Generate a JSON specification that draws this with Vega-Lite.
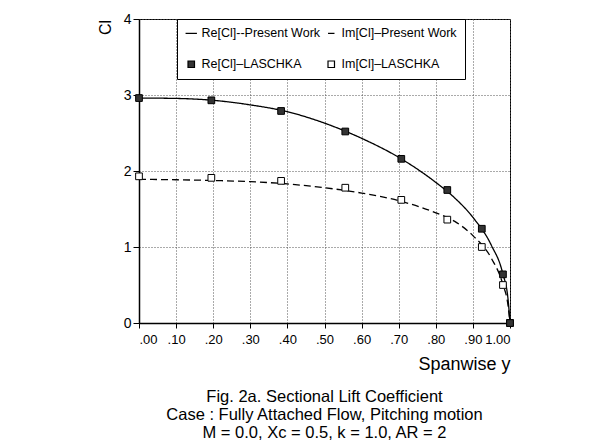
{
  "$schema": "https://vega.github.io/schema/vega-lite/v6.json",
  "width": 371,
  "height": 304,
  "autosize": {"type": "none"},
  "padding": {"left": 139, "top": 19, "right": 98, "bottom": 120},
  "background": "white",
  "datasets": {
    "curves": [
      {"series": "Re[Cl]--Present Work", "span": 0.0, "cl": 2.96},
      {"series": "Re[Cl]--Present Work", "span": 0.1, "cl": 2.955},
      {"series": "Re[Cl]--Present Work", "span": 0.2, "cl": 2.93},
      {"series": "Re[Cl]--Present Work", "span": 0.3, "cl": 2.87},
      {"series": "Re[Cl]--Present Work", "span": 0.4, "cl": 2.78},
      {"series": "Re[Cl]--Present Work", "span": 0.5, "cl": 2.63},
      {"series": "Re[Cl]--Present Work", "span": 0.6, "cl": 2.43},
      {"series": "Re[Cl]--Present Work", "span": 0.7, "cl": 2.18},
      {"series": "Re[Cl]--Present Work", "span": 0.8, "cl": 1.85},
      {"series": "Re[Cl]--Present Work", "span": 0.85, "cl": 1.65},
      {"series": "Re[Cl]--Present Work", "span": 0.9, "cl": 1.39},
      {"series": "Re[Cl]--Present Work", "span": 0.95, "cl": 1.02},
      {"series": "Re[Cl]--Present Work", "span": 0.98, "cl": 0.66},
      {"series": "Re[Cl]--Present Work", "span": 0.995, "cl": 0.3},
      {"series": "Re[Cl]--Present Work", "span": 1.0, "cl": 0.0},
      {"series": "Im[Cl]–Present Work", "span": 0.0, "cl": 1.89},
      {"series": "Im[Cl]–Present Work", "span": 0.1, "cl": 1.885},
      {"series": "Im[Cl]–Present Work", "span": 0.2, "cl": 1.875},
      {"series": "Im[Cl]–Present Work", "span": 0.3, "cl": 1.86},
      {"series": "Im[Cl]–Present Work", "span": 0.4, "cl": 1.83},
      {"series": "Im[Cl]–Present Work", "span": 0.5, "cl": 1.78},
      {"series": "Im[Cl]–Present Work", "span": 0.6, "cl": 1.71},
      {"series": "Im[Cl]–Present Work", "span": 0.7, "cl": 1.61},
      {"series": "Im[Cl]–Present Work", "span": 0.8, "cl": 1.45},
      {"series": "Im[Cl]–Present Work", "span": 0.85, "cl": 1.34},
      {"series": "Im[Cl]–Present Work", "span": 0.9, "cl": 1.15},
      {"series": "Im[Cl]–Present Work", "span": 0.95, "cl": 0.85},
      {"series": "Im[Cl]–Present Work", "span": 0.98, "cl": 0.52},
      {"series": "Im[Cl]–Present Work", "span": 0.995, "cl": 0.22},
      {"series": "Im[Cl]–Present Work", "span": 1.0, "cl": 0.0}
    ],
    "points": [
      {"series": "Im[Cl]–LASCHKA", "span": 0.0, "cl": 1.93},
      {"series": "Im[Cl]–LASCHKA", "span": 0.195, "cl": 1.91},
      {"series": "Im[Cl]–LASCHKA", "span": 0.383, "cl": 1.87},
      {"series": "Im[Cl]–LASCHKA", "span": 0.556, "cl": 1.78},
      {"series": "Im[Cl]–LASCHKA", "span": 0.707, "cl": 1.62},
      {"series": "Im[Cl]–LASCHKA", "span": 0.831, "cl": 1.36},
      {"series": "Im[Cl]–LASCHKA", "span": 0.924, "cl": 1.0},
      {"series": "Im[Cl]–LASCHKA", "span": 0.981, "cl": 0.5},
      {"series": "Im[Cl]–LASCHKA", "span": 1.0, "cl": 0.0},
      {"series": "Re[Cl]–LASCHKA", "span": 0.0, "cl": 2.96},
      {"series": "Re[Cl]–LASCHKA", "span": 0.195, "cl": 2.93},
      {"series": "Re[Cl]–LASCHKA", "span": 0.383, "cl": 2.79},
      {"series": "Re[Cl]–LASCHKA", "span": 0.556, "cl": 2.52},
      {"series": "Re[Cl]–LASCHKA", "span": 0.707, "cl": 2.16},
      {"series": "Re[Cl]–LASCHKA", "span": 0.831, "cl": 1.75},
      {"series": "Re[Cl]–LASCHKA", "span": 0.924, "cl": 1.24},
      {"series": "Re[Cl]–LASCHKA", "span": 0.981, "cl": 0.64},
      {"series": "Re[Cl]–LASCHKA", "span": 1.0, "cl": 0.0}
    ]
  },
  "title": {
    "text": ["Fig. 2a. Sectional Lift Coefficient", "Case : Fully Attached Flow, Pitching motion", "M = 0.0, Xc = 0.5, k = 1.0, AR = 2"],
    "orient": "bottom",
    "anchor": "middle",
    "frame": "group",
    "font": "Liberation Sans, Arial, sans-serif",
    "fontSize": 16.5,
    "fontWeight": "normal",
    "lineHeight": 18,
    "color": "black",
    "offset": 16
  },
  "encoding": {
    "x": {
      "field": "span", "type": "quantitative",
      "scale": {"domain": [0, 1], "nice": false},
      "title": "Spanwise y",
      "axis": {
        "values": [0, 0.1, 0.2, 0.3, 0.4, 0.5, 0.6, 0.7, 0.8, 0.9, 1.0],
        "labelExpr": "replace(format(datum.value,'.2f'),'0.','.')",
        "labelOverlap": false,
        "labelFontSize": 13,
        "labelPadding": 5,
        "tickSize": 5,
        "titleFontSize": 18,
        "titleAnchor": "end",
        "titleAlign": "right",
        "titlePadding": 9
      }
    },
    "y": {
      "field": "cl", "type": "quantitative",
      "scale": {"domain": [0, 4], "nice": false},
      "title": "Cl",
      "axis": {
        "values": [0, 1, 2, 3, 4],
        "format": "d",
        "labelOverlap": false,
        "labelFontSize": 14,
        "labelPadding": 2,
        "tickSize": 6,
        "titleFontSize": 16,
        "titleAngle": -90,
        "titleX": -34,
        "titleY": 8,
        "titleAlign": "center",
        "titleBaseline": "middle"
      }
    }
  },
  "layer": [
    {
      "data": {"name": "curves"},
      "mark": {"type": "line", "interpolate": "monotone", "color": "black", "strokeWidth": 1.3},
      "encoding": {
        "strokeDash": {"field": "series", "type": "nominal", "scale": {"domain": ["Re[Cl]--Present Work", "Im[Cl]–Present Work"], "range": [[1, 0], [7, 4]]}, "legend": null}
      }
    },
    {
      "data": {"name": "points"},
      "mark": {"type": "point", "filled": true, "stroke": "black", "strokeWidth": 1, "opacity": 1, "size": 45},
      "encoding": {
        "fill": {
          "field": "series",
          "type": "nominal",
          "scale": {"domain": ["Re[Cl]--Present Work", "Im[Cl]–Present Work", "Re[Cl]–LASCHKA", "Im[Cl]–LASCHKA"], "range": ["transparent", "transparent", "#333333", "white"]},
          "legend": null
        },
        "shape": {
          "field": "series",
          "type": "nominal",
          "scale": {"domain": ["Re[Cl]--Present Work", "Im[Cl]–Present Work", "Re[Cl]–LASCHKA", "Im[Cl]–LASCHKA"], "range": ["stroke", "stroke", "square", "square"]},
          "legend": {
            "title": null,
            "orient": "none",
            "legendX": 38,
            "legendY": 0,
            "columns": 2,
            "direction": "horizontal",
            "strokeColor": "black",
            "fillColor": "white",
            "padding": 8,
            "rowPadding": 18,
            "columnPadding": 4,
            "labelFont": "Liberation Sans, Arial, sans-serif",
            "labelFontSize": 12.5,
            "labelColor": "black",
            "labelLimit": 250,
            "symbolSize": 50,
            "symbolStrokeColor": "black",
            "symbolStrokeWidth": 1.2,
            "symbolFillColor": "#333333",
            "symbolOpacity": 1,
            "encode": {
              "symbols": {
                "update": {
                  "size": {"signal": "datum.value == 'Re[Cl]--Present Work' ? 130 : 42"}
                }
              }
            }
          }
        }
      }
    }
  ],
  "config": {
    "font": "Liberation Sans, Arial, sans-serif",
    "view": {"stroke": "black", "strokeWidth": 1},
    "axis": {
      "domainColor": "black",
      "domainWidth": 1.5,
      "tickColor": "black",
      "labelColor": "black",
      "titleColor": "black",
      "titleFontWeight": "normal",
      "gridColor": "#555555",
      "gridDash": [1, 2],
      "gridWidth": 1,
      "gridOpacity": 1
    }
  }
}
